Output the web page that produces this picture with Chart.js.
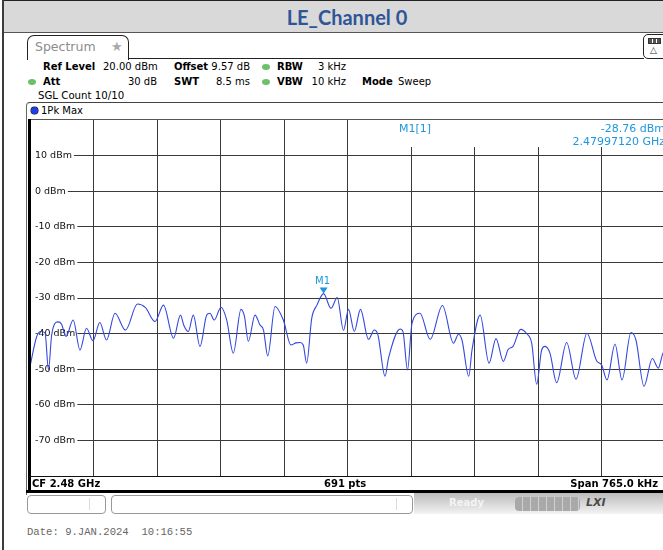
<!DOCTYPE html>
<html><head><meta charset="utf-8">
<script src="https://cdn.jsdelivr.net/npm/chart.js@4.4.0/dist/chart.umd.min.js"></script>
<style>
html,body{margin:0;padding:0;}
body{width:663px;height:550px;overflow:hidden;position:relative;background:#fff;font-family:"DejaVu Sans",sans-serif;}
.a{position:absolute;}
.t{position:absolute;font-size:10px;line-height:12px;white-space:nowrap;color:#000;}
.b{font-weight:bold;}
.r{text-align:right;}
.dot{position:absolute;width:8px;height:6px;border-radius:50%;background:#6cc06a;}
</style></head><body>
<!-- page frame -->
<div class="a" style="left:2px;top:0;width:2px;height:550px;background:#3c3c3c"></div>
<div class="a" style="left:4px;top:0;width:700px;height:31px;background:#d9d9d9;border-top:1px solid #222;border-bottom:1px solid #555"></div>
<div class="a" id="title" style="left:4px;top:4px;width:686px;text-align:center;font-family:Lato,sans-serif;font-weight:bold;font-size:20px;line-height:26px;color:#2f5597"></div>

<!-- tab -->
<div class="a" style="left:27px;top:35px;width:100px;height:24px;border:1px solid #222;border-bottom:none;border-radius:7px 7px 0 0;background:#fff"></div>
<div class="t" style="left:35px;top:40px;font-size:12.5px;line-height:14px;color:#8c8c8c">Spectrum</div>
<div class="t" style="left:111px;top:39px;font-size:13px;line-height:15px;color:#a8a8a8">★</div>
<div class="a" style="left:128px;top:58px;width:516px;height:1px;background:#222"></div>
<div class="a" style="left:643px;top:34px;width:24px;height:23px;border:1px solid #222;border-radius:5px;background:#fff"></div>
<div class="a" style="left:648px;top:38px;width:11px;height:4px;border:1px solid #333;background:repeating-linear-gradient(90deg,#555 0 3px,#fff 3px 4px)"></div>
<div class="t" style="left:650px;top:45px;font-size:9px;line-height:10px;color:#333">△</div>

<!-- header info -->
<div class="t b" style="left:43px;top:61px">Ref Level</div>
<div class="t" style="left:103px;top:61px">20.00 dBm</div>
<div class="t b" style="left:174px;top:61px">Offset</div>
<div class="t r" style="left:200px;width:50px;top:61px">9.57 dB</div>
<div class="dot" style="left:262px;top:64px"></div>
<div class="t b" style="left:277px;top:61px">RBW</div>
<div class="t r" style="left:300px;width:46px;top:61px">3 kHz</div>

<div class="dot" style="left:28px;top:79px"></div>
<div class="t b" style="left:43px;top:76px">Att</div>
<div class="t r" style="left:100px;width:57px;top:76px">30 dB</div>
<div class="t b" style="left:174px;top:76px">SWT</div>
<div class="t r" style="left:200px;width:50px;top:76px">8.5 ms</div>
<div class="dot" style="left:262px;top:79px"></div>
<div class="t b" style="left:277px;top:76px">VBW</div>
<div class="t r" style="left:300px;width:46px;top:76px">10 kHz</div>
<div class="t b" style="left:362px;top:76px">Mode</div>
<div class="t" style="left:398px;top:76px">Sweep</div>

<div class="t" style="left:38px;top:90px;font-size:10.2px">SGL Count 10/10</div>

<!-- trace box -->
<div class="a" style="left:26px;top:102px;width:660px;height:392px;border-left:1px solid #666;border-top:1px solid #444;border-top-left-radius:4px"></div>
<div class="a" style="left:31px;top:107px;width:7px;height:7px;border-radius:50%;background:#2340e0;box-shadow:0 0 0 0.5px #112"></div>
<div class="t" style="left:41px;top:105px">1Pk Max</div>
<div class="a" style="left:29px;top:119px;width:640px;height:1px;background:#555"></div>

<!-- chart -->
<canvas id="c" width="635" height="356" class="a" style="left:30px;top:120px;width:635px;height:356px"></canvas>

<!-- marker info -->
<div class="t" id="mName" style="left:399px;top:122px;font-size:11px;line-height:13px;color:#1e96dc"></div>
<div class="t r" id="mLvl" style="left:500px;width:165px;top:122px;font-size:11px;line-height:13px;color:#1e96dc"></div>
<div class="t r" id="mFreq" style="left:500px;width:165px;top:135px;font-size:11px;line-height:13px;color:#1e96dc"></div>

<!-- plot frame -->
<div class="a" style="left:28px;top:119px;width:2.5px;height:373px;background:#000"></div>
<div class="a" style="left:29px;top:476px;width:640px;height:1px;background:#111"></div>
<div class="t b" style="left:32px;top:478px">CF 2.48 GHz</div>
<div class="t b" style="left:324px;top:478px">691 pts</div>
<div class="t b r" style="left:500px;width:158px;top:478px">Span 765.0 kHz</div>
<div class="a" style="left:26px;top:490px;width:640px;height:3px;background:#000"></div>

<!-- status bar -->
<div class="a" style="left:27px;top:495px;width:77px;height:17px;border:1px solid #999;border-radius:4px;background:#fff"></div>
<div class="a" style="left:89px;top:498px;width:1px;height:12px;background:#ddd"></div>
<div class="a" style="left:111px;top:495px;width:300px;height:17px;border:1px solid #999;border-radius:4px;background:#fff"></div>
<div class="a" style="left:396px;top:498px;width:1px;height:12px;background:#ddd"></div>
<div class="a" style="left:414px;top:493px;width:260px;height:21px;background:linear-gradient(#bcbcbc,#f3f3f3)"></div>
<div class="t b" style="left:449px;top:497px;color:#f4f4f4">Ready</div>
<div class="a" style="left:515px;top:497px;width:65px;height:14px;border-radius:4px;background:repeating-linear-gradient(90deg,#a9a9a9 0 7px,#d0d0d0 7px 8px)"></div>
<div class="t b" style="left:586px;top:497px;font-size:11px;font-style:italic;color:#4a4a4a">LXI</div>

<div class="t" style="left:27px;top:526px;font-family:'Liberation Mono',monospace;font-size:10.6px;color:#666">Date: 9.JAN.2024&nbsp;&nbsp;10:16:55</div>

<script>
const chartTitle = 'LE_Channel 0';
// frequency offset from CF 2.48 GHz, kHz (span 765 kHz)
const freqKHz = [
 -382.5,-374.4,-369.3,-364.4,-360.2,-356.4,-348.8,-344.6,-339.1,-330.5,
 -322.3,-314.4,-306.6,-298.4,-290.3,-280.1,-267.5,-253.0,-243.4,-231.9,
 -221.7,-209.6,-201.2,-197.0,-191.8,-185.8,-177.7,-169.6,-165.7,-160.5,
 -152.4,-145.5,-137.6,-128.3,-124.1,-119.5,-111.4,-105.4,-101.2,-96.1,
 -87.3,-77.3,-68.1,-62.1,-57.2,-53.3,-49.2,-43.1,-36.8,-28.8,
 -19.9,-12.4,-4.8,1.2,8.2,15.6,25.3,32.2,36.7,45.2,
 49.4,63.5,66.9,72.3,77.7,87.3,99.6,114.4,127.7,133.7,
 137.9,146.1,150.0,159.8,170.5,178.9,187.7,193.7,199.4,208.6,
 216.2,221.9,227.9,233.9,237.9,243.9,252.0,264.0,275.3,288.5,
 300.2,306.2,312.6,322.3,330.7,341.5,347.5,357.2,367.2,374.4,
 379.7,382.5];
// 1Pk Max trace level, dBm
const levelDbm = [
 -49.2,-40.8,-39.4,-39.8,-50.2,-40.4,-36.7,-37.3,-40.8,-36.2,
 -44.6,-38.5,-42.0,-36.9,-41.8,-34.3,-39.0,-31.7,-32.7,-36.6,
 -32.0,-41.3,-34.8,-37.8,-39.4,-34.8,-43.6,-34.8,-34.3,-36.2,
 -32.6,-36.2,-45.5,-33.2,-35.2,-42.2,-34.8,-37.6,-39.0,-46.3,
 -32.4,-36.2,-43.2,-42.6,-42.5,-43.2,-48.3,-35.7,-32.0,-28.76,
 -32.9,-29.9,-39.1,-33.2,-39.4,-33.2,-41.6,-39.0,-40.4,-52.0,
 -46.9,-38.7,-39.5,-50.2,-37.1,-34.3,-41.6,-32.1,-42.7,-40.2,
 -41.8,-52.0,-44.6,-34.8,-48.3,-41.4,-47.8,-44.4,-43.6,-38.8,
 -40.1,-42.7,-54.2,-44.6,-43.6,-45.5,-53.8,-42.5,-52.8,-39.9,
 -47.7,-48.8,-53.0,-43.0,-53.0,-39.7,-41.8,-54.8,-47.0,-49.7,
 -45.7,-44.6];
const yTickValues = [10,0,-10,-20,-30,-40,-50,-60,-70];
const yMin = -80, yMax = 20;
const xMin = -382.5, xMax = 382.5, xStep = 76.5;
const markerName = 'M1';
const markerFreqKHz = -28.8;
const markerLevel = -28.76;
const markerFreqText = '2.47997120 GHz';

document.getElementById('title').textContent = chartTitle;
document.getElementById('mName').textContent = markerName + '[1]';
document.getElementById('mLvl').textContent = markerLevel.toFixed(2) + ' dBm';
document.getElementById('mFreq').textContent = markerFreqText;

const MCOL = '#1e96dc';
const markerPlugin = {
  id: 'marker',
  beforeDatasetsDraw(chart) {
    const {ctx, chartArea: a} = chart;
    ctx.save();
    ctx.fillStyle = '#fff';
    ctx.fillRect(352, a.top, a.right - 352, 27);
    ctx.restore();
  },
  afterDatasetsDraw(chart) {
    const {ctx} = chart;
    const px = chart.scales.x.getPixelForValue(markerFreqKHz);
    const py = chart.scales.y.getPixelForValue(markerLevel);
    ctx.save();
    ctx.fillStyle = MCOL;
    ctx.beginPath();
    ctx.moveTo(px - 4, py - 6);
    ctx.lineTo(px + 4, py - 6);
    ctx.lineTo(px, py);
    ctx.closePath();
    ctx.fill();
    ctx.font = '10px "DejaVu Sans"';
    ctx.textAlign = 'center';
    ctx.textBaseline = 'middle';
    ctx.fillText(markerName, px - 1, py - 12);
    ctx.restore();
  }
};

new Chart(document.getElementById('c'), {
  type: 'line',
  data: {
    datasets: [{
      data: freqKHz.map((f, i) => ({x: f, y: levelDbm[i]})),
      borderColor: '#3448dc',
      borderWidth: 1.1,
      pointRadius: 0,
      cubicInterpolationMode: 'monotone',
      fill: false
    }]
  },
  options: {
    responsive: false,
    animation: false,
    events: [],
    layout: {padding: 0},
    plugins: {legend: {display: false}, tooltip: {enabled: false}},
    scales: {
      x: {
        type: 'linear', min: xMin, max: xMax,
        ticks: {display: false, stepSize: xStep},
        grid: {color: '#3a3a3a', lineWidth: 1, drawTicks: false},
        border: {display: false},
        afterFit(s) { s.height = 0; s.paddingLeft = 0; s.paddingRight = 0; }
      },
      y: {
        type: 'linear', min: yMin, max: yMax,
        afterBuildTicks(s) { s.ticks = yTickValues.map(v => ({value: v})); },
        ticks: {
          mirror: true, padding: 5,
          font: {family: 'DejaVu Sans', size: 9.5},
          color: '#111',
          callback: v => v + ' dBm',
          showLabelBackdrop: true,
          backdropColor: '#fff',
          backdropPadding: {top: 0, bottom: 0, left: 5, right: 2}
        },
        grid: {color: '#3a3a3a', lineWidth: 1, drawTicks: false},
        border: {display: false},
        afterFit(s) { s.width = 0; s.paddingTop = 0; s.paddingBottom = 0; }
      }
    }
  },
  plugins: [markerPlugin]
});
</script>
</body></html>
